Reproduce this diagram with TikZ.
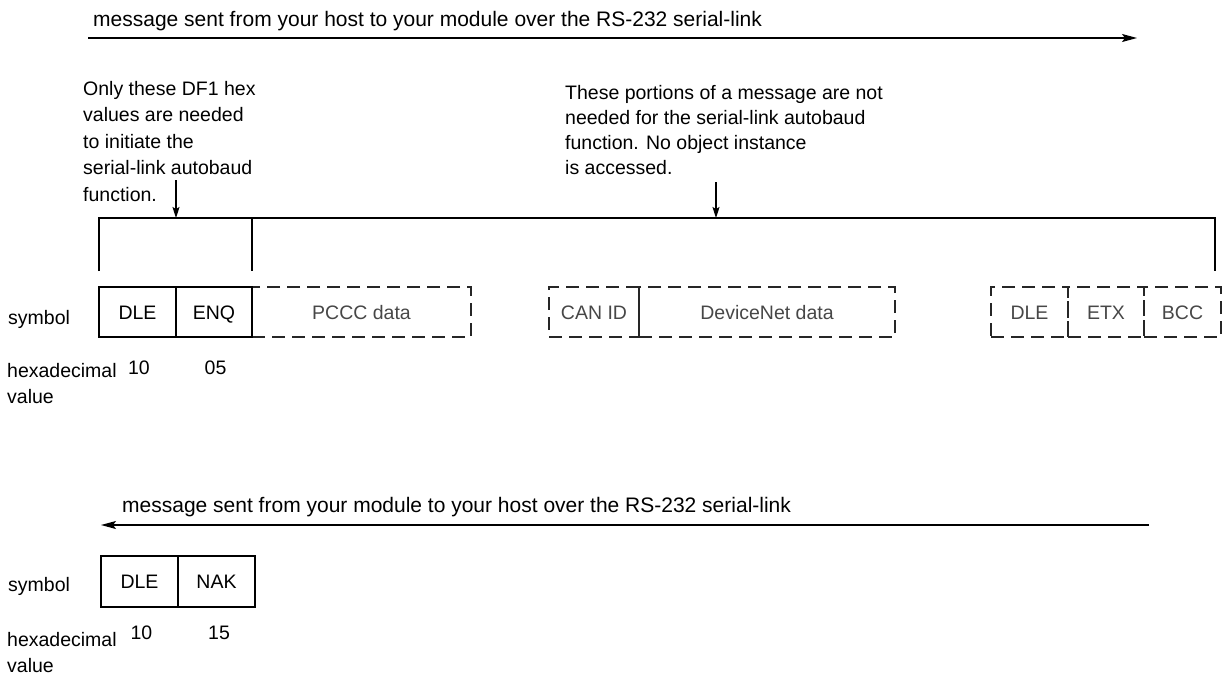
\documentclass[tikz,border=0pt]{standalone}
\usepackage{fontspec}
\setmainfont{Liberation Sans}
\usetikzlibrary{arrows.meta}
\newcommand\dgfont{\fontsize{19.5}{26.5}\selectfont}
\newcommand\dgfontb{\fontsize{19.5}{25}\selectfont}
\newcommand\dgfontm{\fontsize{21}{26}\selectfont}
\begin{document}
\begin{tikzpicture}[x=1pt,y=-1pt,
  lbl/.style={inner sep=0pt, text height=14pt, text depth=0pt, font=\dgfont},
  msg/.style={inner sep=0pt, text height=15pt, text depth=0pt, font=\dgfontm},
  ml/.style={inner sep=0pt, align=left, font=\dgfont},
  mlb/.style={inner sep=0pt, align=left, font=\dgfontb},
  sbox/.style={draw, line width=1.1pt, minimum height=50pt, inner sep=0pt,
    text height=14pt, text depth=0pt, font=\dgfont},
  dbox/.style={sbox, dash pattern=on 13pt off 7pt, draw=black!85, text=black!72},
  arr/.style={line width=1.2pt, -{Stealth[length=15pt,width=8pt,inset=3pt]}},
  sarr/.style={line width=1.1pt, -{Stealth[length=11pt,width=7pt,inset=2pt]}},
  brk/.style={line width=1.1pt}
]
\useasboundingbox (0,0) rectangle (1225,677);

% top message arrow
\node[msg, anchor=west] (toptxt) at (93,19) {message sent from your host to your module over the RS-232 serial-link};
\coordinate (ta1) at (88,38);
\coordinate (ta2) at (1137,38);
\draw[arr] (ta1) -- (ta2);

% notes
\node[ml, anchor=north west] (note1) at (83,81) {Only these DF1 hex\\values are needed\\to initiate the\\serial-link autobaud\\function.};
\node[mlb, anchor=north west] (note2) at (565,85) {These portions of a message are not\\needed for the serial-link autobaud\\function. No object instance\\is accessed.};

% bracket
\coordinate (bl) at (99,271);
\coordinate (bltop) at (99,218);
\coordinate (bm) at (252,271);
\coordinate (bmtop) at (252,218);
\coordinate (brtop) at (1215,218);
\coordinate (br) at (1215,271);
\draw[brk] (bl) -- (bltop) -- (brtop) -- (br);
\draw[brk] (bmtop) -- (bm);

\coordinate (n1s) at (176,180);
\coordinate (n1e) at (176,218);
\draw[sarr] (n1s) -- (n1e);
\coordinate (n2s) at (716,182);
\coordinate (n2e) at (716,218);
\draw[sarr] (n2s) -- (n2e);

% first row of boxes
\node[dbox, minimum width=219pt] (pccc) at (361.5,312) {PCCC data};
\node[dbox, minimum width=90pt] (canid) at (594,312) {CAN ID};
\node[dbox, minimum width=256pt] (dnet) at (767,312) {DeviceNet data};
\node[dbox, minimum width=77pt] (dle2) at (1029.5,312) {DLE};
\node[dbox, minimum width=76pt] (etx) at (1106,312) {ETX};
\node[dbox, minimum width=77pt] (bcc) at (1182.5,312) {BCC};
\node[sbox, minimum width=77pt] (dle1) at (137.5,312) {DLE};
\node[sbox, minimum width=76pt] (enq) at (214,312) {ENQ};

\node[lbl, anchor=west] (sym1) at (8,317) {symbol};
\node[ml, anchor=north west] (hex1) at (7,363) {hexadecimal\\value};
\node[lbl] (h10a) at (139,367) {10};
\node[lbl] (h05) at (215.5,367) {05};

% bottom message arrow
\node[msg, anchor=west] (bottxt) at (122,505) {message sent from your module to your host over the RS-232 serial-link};
\coordinate (ba1) at (1149,525);
\coordinate (ba2) at (101,525);
\draw[arr] (ba1) -- (ba2);

\node[sbox, minimum width=77pt, minimum height=51pt] (dle3) at (139.5,581.5) {DLE};
\node[sbox, minimum width=77pt, minimum height=51pt] (nak) at (216.5,581.5) {NAK};

\node[lbl, anchor=west] (sym2) at (8,584) {symbol};
\node[ml, anchor=north west] (hex2) at (7,632) {hexadecimal\\value};
\node[lbl] (h10b) at (141.5,632) {10};
\node[lbl] (h15) at (219,632) {15};
\end{tikzpicture}
\end{document}
